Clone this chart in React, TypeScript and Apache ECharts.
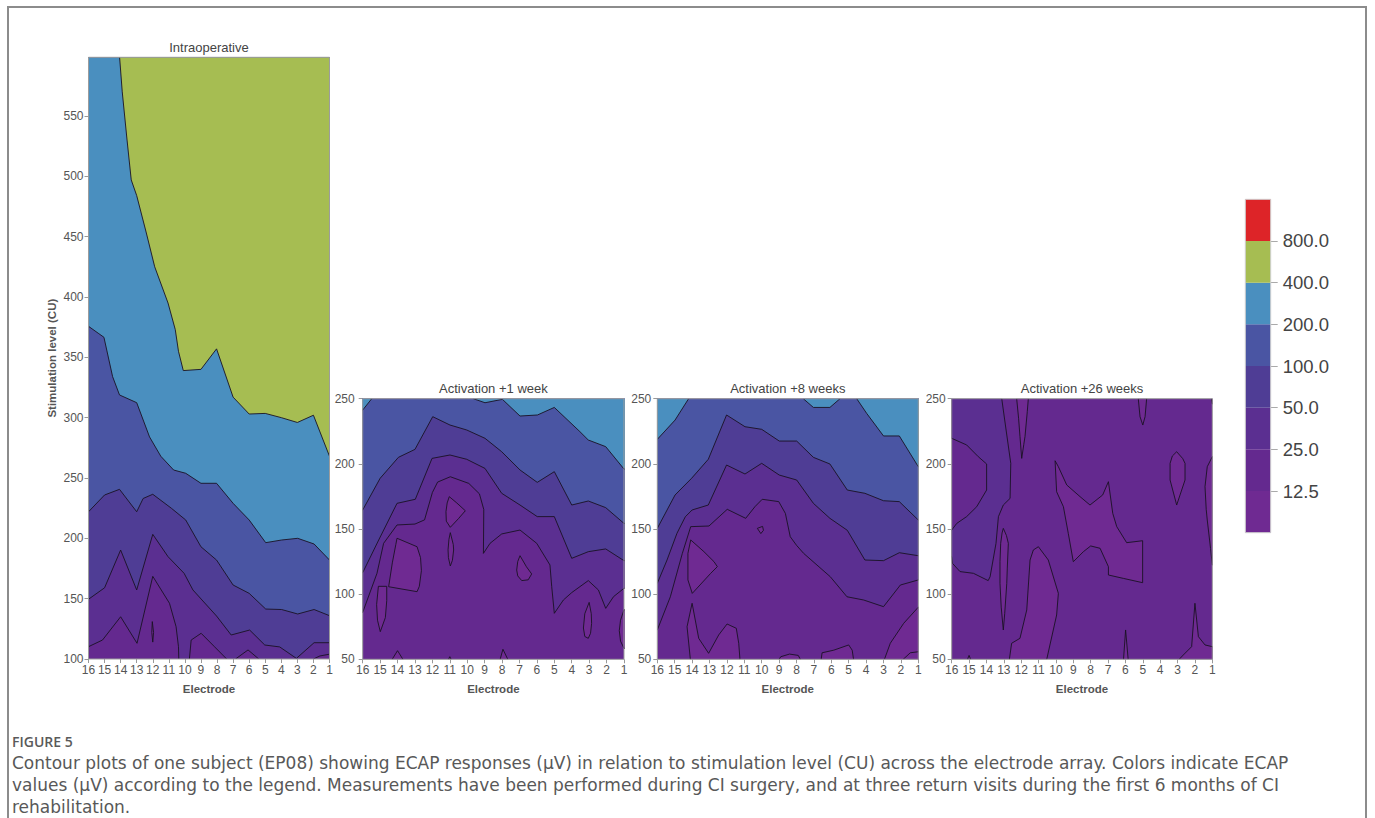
import React, { useEffect, useRef } from 'react';
import * as echarts from 'echarts';

// ---------- data ----------
const ELECTRODES = [16, 15, 14, 13, 12, 11, 10, 9, 8, 7, 6, 5, 4, 3, 2, 1];
const Y_TICKS_INTRAOP = [100, 150, 200, 250, 300, 350, 400, 450, 500, 550];
const Y_TICKS_ACT = [50, 100, 150, 200, 250];
const Y_RANGE_INTRAOP = [100, 598.6];
const Y_RANGE_ACT = [50, 250];
const PANEL_TITLES = ['Intraoperative', 'Activation +1 week', 'Activation +8 weeks', 'Activation +26 weeks'];
const X_NAME = 'Electrode';
const Y_NAME = 'Stimulation level (CU)';
// ECAP colour bands: <12.5, 12.5-25, 25-50, 50-100, 100-200, 200-400, 400-800, >800
const BAND_COLORS = ['#6f2a92', '#64298f', '#5b2f91', '#4f3d95', '#4a55a3', '#4a8fbf', '#a6bd52', '#dd2428'];
const COLORBAR_LABELS = ['12.5', '25.0', '50.0', '100.0', '200.0', '400.0', '800.0'];
const COLORBAR_BANDS = [0, 1, 2, 3, 4, 5, 6, 7];
const CAPTION_HEAD = 'FIGURE 5';
const CAPTION_LINES = [
  'Contour plots of one subject (EP08) showing ECAP responses (\u03bcV) in relation to stimulation level (CU) across the electrode array. Colors indicate ECAP',
  'values (\u03bcV) according to the legend. Measurements have been performed during CI surgery, and at three return visits during the first 6 months of CI',
  'rehabilitation.',
];

type Shape = { band: number; kind: 'upper' | 'lower' | 'island'; pts: number[][] };

// contour regions: [electrode, stimulation level]
const BASE_BANDS = [1, 1, 1, 1];

const intraopShapes: Shape[] = [
  { band: 2, kind: 'upper', pts: [[16, 110.2], [15.13, 115.7], [14.0, 135], [12.98, 113], [12.0, 168.5], [10.96, 146.2], [10.55, 126.8], [10.4, 110.2], [10.38, 100], [10.36, 95], [9.74, 95], [9.72, 100], [9.61, 115.7], [8.99, 121.3], [8.16, 110.2], [7.4, 100], [7.35, 95], [6.9, 95], [6.85, 100], [6.07, 107.5], [5.4, 100], [5.35, 95], [2.1, 95], [2.0, 100], [1.6, 102.5], [1.0, 104]] },
  { band: 3, kind: 'upper', pts: [[16, 149.5], [15.0, 159], [14.0, 190.3], [13.0, 157.2], [12.0, 203.3], [11.05, 184.8], [10.05, 171], [9.5, 157.2], [8.03, 135.6], [7.12, 119.9], [5.97, 124], [5.03, 111.6], [4.1, 110], [3.06, 100.5], [1.96, 113.5], [1.0, 113.5]] },
  { band: 4, kind: 'upper', pts: [[16, 222], [15.0, 235.9], [14.07, 240.6], [13.0, 222], [12.6, 233], [12.0, 236.5], [10.84, 224.9], [9.95, 215.2], [9.0, 193], [8.03, 182], [7.0, 161.3], [6.0, 154.4], [4.97, 141.4], [3.98, 141], [2.98, 137.3], [1.96, 141], [1.0, 135.9]] },
  { band: 5, kind: 'upper', pts: [[16, 375.7], [15.4, 370], [15.04, 366.6], [14.5, 334], [14.07, 318.8], [13.0, 312.4], [12.2, 284], [11.5, 268], [10.7, 256.6], [9.95, 253.9], [9.0, 245.6], [8.03, 245.6], [7.0, 229], [6.0, 215.2], [4.97, 196.4], [3.98, 198.6], [2.98, 200], [1.96, 195.3], [1.0, 182]] },
  { band: 6, kind: 'upper', pts: [[14.1, 605], [13.9, 570], [13.6, 530], [13.34, 497], [13.0, 484], [12.4, 453], [11.88, 425], [11.05, 395], [10.6, 373], [10.4, 355], [10.1, 339], [9.0, 340], [8.03, 357], [7.0, 317], [6.0, 303], [5.0, 303.5], [4.0, 300], [3.0, 296], [2.0, 302], [1.0, 268]] },
  { band: 0, kind: 'island', pts: [[12.03, 131], [11.95, 122], [12.0, 114], [12.06, 122]] },
];

const week1Shapes: Shape[] = [
  { band: 2, kind: 'upper', pts: [[16, 86], [15.18, 116], [14.8, 139], [14.03, 153.1], [13.0, 153.8], [12.45, 157], [12.0, 178], [11.7, 186], [10.97, 190.1], [9.91, 185], [9.3, 177], [9.05, 165], [9.07, 131.3], [8.69, 139], [8.02, 146.2], [6.97, 149.2], [6.01, 139], [5.25, 122.4], [5.15, 105.8], [5.0, 85.3], [4.48, 95.5], [4.0, 101.2], [3.05, 110.4], [2.47, 103.2], [2.05, 89.1], [1.6, 98.1], [1.0, 104.5]] },
  { band: 3, kind: 'upper', pts: [[16, 116.5], [15.08, 141.6], [14.03, 169.7], [12.98, 172.8], [12.02, 204.2], [10.99, 206.8], [10.03, 203.5], [8.98, 196.5], [8.02, 177.4], [6.97, 168.4], [5.98, 159.5], [5.0, 159.5], [4.0, 127.5], [3.05, 132.6], [2.05, 134.7], [1.0, 125.7]] },
  { band: 4, kind: 'upper', pts: [[16, 164.6], [15.0, 188.9], [13.95, 205], [13.0, 211.1], [11.98, 236.2], [10.99, 229.8], [10.03, 226], [8.98, 219.6], [8.02, 209.3], [6.97, 195.3], [5.98, 185.8], [5.0, 194], [4.0, 168.4], [3.05, 171.5], [2.05, 166.4], [1.0, 154.3]] },
  { band: 5, kind: 'upper', pts: [[16, 241.3], [15.48, 250], [15.45, 255]] },
  { band: 5, kind: 'upper', pts: [[9.75, 255], [9.65, 250], [8.98, 246.9], [7.98, 249.5], [6.97, 236.7], [5.97, 237.5], [5.0, 243.3], [3.53, 224.7], [3.05, 218.3], [2.05, 213.2], [1.0, 196]] },
  { band: 0, kind: 'island', pts: [[15.1, 106], [14.62, 106], [14.62, 95], [14.7, 82], [14.99, 71.2], [15.15, 80], [15.2, 92]] },
  { band: 0, kind: 'island', pts: [[14.03, 142.9], [12.88, 136.4], [12.68, 128], [12.63, 118], [12.75, 106], [12.88, 101.9], [14.51, 105.7], [14.3, 124], [14.1, 138]] },
  { band: 0, kind: 'island', pts: [[11.03, 174.8], [10.6, 170], [10.11, 164], [10.5, 158], [10.97, 151.3], [11.2, 156], [11.22, 163.3], [11.15, 170]] },
  { band: 0, kind: 'island', pts: [[10.97, 147.2], [10.8, 138], [10.78, 133.9], [10.85, 126], [10.97, 121.6], [11.08, 128], [11.1, 134], [11.05, 142]] },
  { band: 0, kind: 'island', pts: [[6.97, 129.5], [6.6, 121], [6.3, 115.5], [6.5, 111], [6.87, 110.4], [7.1, 114], [7.16, 118.5], [7.1, 125]] },
  { band: 0, kind: 'island', pts: [[3.0, 93.7], [2.88, 85], [2.86, 77.6], [2.92, 70], [3.05, 66.1], [3.25, 67.5], [3.33, 74], [3.25, 85]] },
  { band: 0, kind: 'island', pts: [[0.7, 88], [1.0, 88], [1.2, 80], [1.27, 72], [1.2, 64], [1.0, 58.4], [0.7, 58.4]] },
  { band: 0, kind: 'lower', pts: [[14.4, 48], [14.0, 56.6], [13.6, 48]] },
  { band: 0, kind: 'lower', pts: [[11.15, 48], [11.0, 52], [10.85, 48]] },
  { band: 0, kind: 'lower', pts: [[8.15, 48], [7.95, 57.7], [7.6, 48]] },
];

const week8Shapes: Shape[] = [
  { band: 2, kind: 'upper', pts: [[16, 72.5], [15.25, 98], [14.56, 131.3], [14.08, 151.8], [13.03, 152.3], [11.98, 165.1], [10.92, 158.2], [10.39, 167.1], [9.97, 172.8], [9.02, 171], [8.64, 162], [8.36, 144.1], [8.0, 137.5], [7.59, 131.3], [6.06, 113.4], [5.1, 98], [4.14, 95.5], [3.0, 90.4], [2.03, 107], [1.0, 110.9]] },
  { band: 3, kind: 'upper', pts: [[16, 108.3], [15.44, 126.2], [14.87, 146.7], [14.39, 159.4], [14.0, 164.6], [13.07, 168.4], [12.02, 199.1], [10.96, 192.2], [10.0, 200.4], [8.99, 191.4], [7.99, 187.6], [7.03, 169.7], [6.08, 158.2], [5.08, 149], [4.07, 126.2], [3.0, 125.7], [2.09, 131.8], [1.0, 129.5]] },
  { band: 4, kind: 'upper', pts: [[16, 150.5], [14.98, 176.1], [14.03, 188.9], [13.07, 203.5], [12.02, 237.5], [10.96, 228.5], [10.0, 226.5], [8.99, 217.5], [7.99, 217.5], [7.03, 205], [6.08, 199.9], [5.08, 179.9], [4.07, 177.4], [3.0, 171.7], [2.09, 171], [1.0, 156.9]] },
  { band: 5, kind: 'upper', pts: [[16, 218.8], [14.98, 233.6], [14.2, 250], [14.15, 255]] },
  { band: 5, kind: 'upper', pts: [[7.7, 255], [7.61, 250], [7.03, 243.3], [6.08, 243.3], [5.5, 250], [5.45, 255]] },
  { band: 5, kind: 'upper', pts: [[4.58, 255], [4.54, 250], [3.97, 238.8], [3.0, 221.4], [2.09, 221.4], [1.0, 197.8]] },
  { band: 0, kind: 'island', pts: [[14.08, 141.6], [13.32, 132.6], [12.74, 124.9], [12.55, 121.1], [12.93, 116], [13.99, 100.6], [14.24, 110.9], [14.24, 131.3]] },
  { band: 0, kind: 'island', pts: [[10.25, 150.5], [9.95, 152], [9.9, 149], [10.05, 146.5]] },
  { band: 0, kind: 'lower', pts: [[14.12, 48], [14.1, 50], [14.29, 75], [14.0, 93], [13.62, 66.1], [13.05, 54.6], [12.47, 68.7], [11.99, 77.1], [11.46, 73.8], [11.32, 62.3], [11.25, 50], [11.24, 48]] },
  { band: 0, kind: 'lower', pts: [[9.1, 48], [8.9, 52], [8.4, 54], [7.9, 53], [7.7, 48]] },
  { band: 0, kind: 'lower', pts: [[6.6, 48], [6.53, 55], [5.86, 57], [5.0, 61], [4.8, 57], [4.7, 48]] },
  { band: 0, kind: 'lower', pts: [[3.0, 48], [2.61, 62.3], [1.84, 77.6], [1.0, 90]] },
  { band: 0, kind: 'lower', pts: [[2.03, 48], [1.46, 55], [1.0, 55.8]] },
];

const week26Shapes: Shape[] = [
  { band: 2, kind: 'island', pts: [[16.5, 255], [13.1, 255], [13.12, 250], [12.87, 226], [12.6, 200.4], [12.64, 173.5], [13.03, 168.4], [13.31, 159.5], [13.45, 139], [13.79, 113.4], [13.9, 110.4], [14.75, 116], [15.52, 117.3], [15.96, 123.7], [16.0, 128.8], [16.5, 128.8], [16.5, 149.2], [16.0, 149.2], [15.71, 154.3], [15.14, 159.5], [14.56, 167.1], [13.99, 179.9], [13.99, 199.9], [14.47, 205.5], [15.14, 214.5], [16.0, 219.6], [16.5, 219.6]] },
  { band: 0, kind: 'island', pts: [[12.3, 255], [12.26, 250], [12.15, 235], [12.07, 221], [11.97, 204.2], [11.85, 215], [11.78, 221], [11.65, 240], [11.59, 250], [11.57, 255]] },
  { band: 0, kind: 'island', pts: [[5.28, 255], [5.26, 250], [5.16, 236.2], [5.0, 229.8], [4.87, 236.2], [4.78, 250], [4.76, 255]] },
  { band: 0, kind: 'island', pts: [[1.1, 255], [1.05, 250], [1.0, 246], [0.7, 246], [0.7, 255]] },
  { band: 0, kind: 'island', pts: [[3.05, 209.3], [2.7, 204], [2.57, 200.4], [2.57, 187.6], [3.05, 168.4], [3.43, 187.6], [3.43, 200.4], [3.3, 206]] },
  { band: 0, kind: 'island', pts: [[0.7, 205.5], [1.0, 205.5], [1.29, 197.8], [1.42, 182.5], [1.35, 165], [1.29, 156.9], [1.1, 135], [1.0, 122.4], [0.7, 122.4]] },
  { band: 0, kind: 'island', pts: [[10.05, 202.4], [9.96, 178.6], [9.57, 167.1], [9.29, 146.7], [9.0, 124.9], [8.42, 132.6], [8.0, 137], [7.46, 135.2], [6.98, 121.1], [6.98, 114.7], [6.12, 112.1], [5.01, 108.8], [5.01, 141.0], [5.93, 139.5], [6.5, 151.8], [6.73, 162], [6.98, 186.3], [7.31, 176.1], [8.04, 168.4], [8.61, 174.8], [9.38, 183.8], [9.86, 197.8]] },
  { band: 0, kind: 'island', pts: [[13.03, 150.5], [12.85, 145], [12.74, 139], [12.8, 120], [12.83, 108.3], [12.95, 85], [13.03, 72.5], [13.15, 90], [13.22, 108.3], [13.22, 125], [13.18, 139], [13.1, 147]] },
  { band: 0, kind: 'lower', pts: [[12.7, 48], [12.68, 50], [12.55, 62.3], [12.07, 66.1], [11.68, 87.9], [11.49, 126.2], [11.3, 133.9], [11.01, 136.4], [10.44, 126.2], [9.86, 100.6], [9.96, 84], [10.53, 50], [10.55, 48]] },
  { band: 0, kind: 'lower', pts: [[15.15, 48], [15.0, 53], [14.85, 48]] },
  { band: 0, kind: 'lower', pts: [[6.12, 48], [5.99, 72.5], [5.83, 48]] },
  { band: 0, kind: 'lower', pts: [[3.05, 48], [2.67, 53.3], [2.19, 59.7], [2.0, 93], [1.8, 67.4], [1.42, 61], [1.0, 59.7]] },
];

const PANEL_SHAPES = [intraopShapes, week1Shapes, week8Shapes, week26Shapes];

// ---------- layout ----------
const W = 1375;
const H = 818;
const GRIDS = [
  { left: 88.5, top: 57.3, width: 241, height: 601.7 },
  { left: 362.7, top: 398.7, width: 261.3, height: 260.6 },
  { left: 657.3, top: 398.7, width: 261, height: 260.6 },
  { left: 951.7, top: 398.7, width: 260.6, height: 260.6 },
];
const Y_LABEL_MARGINS = [5, 8, 6, 6];
const CB = { left: 1245.3, top: 199.3, width: 25.4, height: 333.4 };
const FONT = '"Liberation Sans", Arial, Helvetica, sans-serif';
const CAP_FONT = '"DejaVu Sans", "Open Sans", sans-serif';
const HEAD_FONT = '"Open Sans", "Noto Sans", sans-serif';
const LINE = '#1a1224';

function makeRender(shapes: Shape[]) {
  return (params: any, api: any) => {
    const s = shapes[params.dataIndex];
    const cs = params.coordSys;
    const px = s.pts.map((p) => api.coord(p));
    let points = px;
    const L = cs.x - 30;
    const R = cs.x + cs.width + 30;
    if (s.kind === 'upper') {
      const T = cs.y - 80;
      points = [[L, px[0][1]], ...px, [R, px[px.length - 1][1]], [R, T], [L, T]];
    } else if (s.kind === 'lower') {
      const B = cs.y + cs.height + 80;
      points = [[L, px[0][1]], ...px, [R, px[px.length - 1][1]], [R, B], [L, B]];
    }
    return {
      type: 'polygon',
      shape: { points },
      style: { fill: BAND_COLORS[s.band], stroke: LINE, lineWidth: 0.9 },
    };
  };
}

function buildOption() {
  const grids: any[] = GRIDS.map((g, i) => ({
    left: g.left,
    top: g.top,
    width: g.width,
    height: g.height,
    show: true,
    backgroundColor: BAND_COLORS[BASE_BANDS[i]],
    borderWidth: 0,
  }));
  grids.push({ left: CB.left, top: CB.top, width: CB.width, height: CB.height, show: false });

  const xAxes: any[] = GRIDS.map((_, i) => ({
    type: 'value',
    gridIndex: i,
    min: 1,
    max: 16,
    inverse: true,
    axisLine: { show: false },
    splitLine: { show: false },
    axisTick: { show: true, length: 4, lineStyle: { color: '#999' }, customValues: ELECTRODES },
    axisLabel: { customValues: ELECTRODES, color: '#555', fontSize: 12, fontFamily: FONT, margin: 5 },
  }));
  xAxes.push({ type: 'category', gridIndex: 4, data: ['cb'], show: false });

  const yAxes: any[] = GRIDS.map((_, i) => {
    const r = i === 0 ? Y_RANGE_INTRAOP : Y_RANGE_ACT;
    const t = i === 0 ? Y_TICKS_INTRAOP : Y_TICKS_ACT;
    return {
      type: 'value',
      gridIndex: i,
      min: r[0],
      max: r[1],
      axisLine: { show: false },
      splitLine: { show: false },
      axisTick: { show: true, length: 4, lineStyle: { color: '#999' }, customValues: t },
      axisLabel: { customValues: t, color: '#555', fontSize: 12, fontFamily: FONT, margin: Y_LABEL_MARGINS[i] },
    };
  });
  yAxes.push({
    type: 'value',
    gridIndex: 4,
    min: 0,
    max: 8,
    position: 'right',
    axisLine: { show: false },
    splitLine: { show: false },
    axisTick: { show: true, length: 7, lineStyle: { color: '#aaa' }, customValues: [1, 2, 3, 4, 5, 6, 7] },
    axisLabel: {
      customValues: [1, 2, 3, 4, 5, 6, 7],
      formatter: (v: number) => COLORBAR_LABELS[Math.round(v) - 1] ?? '',
      color: '#444',
      fontSize: 18.5,
      fontFamily: FONT,
      margin: 12,
    },
  });

  const series: any[] = PANEL_SHAPES.map((shapes, i) => ({
    type: 'custom',
    xAxisIndex: i,
    yAxisIndex: i,
    clip: true,
    silent: true,
    data: shapes.map((s) => [s.pts[0][0], s.pts[0][1]]),
    renderItem: makeRender(shapes),
  }));
  COLORBAR_BANDS.forEach((b) => {
    series.push({
      type: 'bar',
      xAxisIndex: 4,
      yAxisIndex: 4,
      stack: 'cb',
      barWidth: '100%',
      silent: true,
      data: [1],
      itemStyle: { color: BAND_COLORS[b] },
    });
  });

  const graphic: any[] = [];
  // page frame
  graphic.push({ type: 'polyline', shape: { points: [[8, H], [8, 7], [1366, 7], [1366, H]] }, style: { stroke: '#8c8c8c', lineWidth: 2, fill: null }, z: 100 });
  GRIDS.forEach((g, i) => {
    graphic.push({ type: 'rect', shape: { x: g.left, y: g.top, width: g.width, height: g.height }, style: { stroke: '#9c9c9c', lineWidth: 1, fill: null }, z: 100 });
    graphic.push({ type: 'text', x: g.left + g.width / 2, y: g.top - 10, style: { text: PANEL_TITLES[i], font: `13px ${FONT}`, fill: '#444', align: 'center', verticalAlign: 'middle' }, z: 100 });
    graphic.push({ type: 'text', x: g.left + g.width / 2, y: g.top + g.height + 30, style: { text: X_NAME, font: `bold 11.5px ${FONT}`, fill: '#555', align: 'center', verticalAlign: 'middle' }, z: 100 });
  });
  graphic.push({ type: 'text', x: 52, y: GRIDS[0].top + GRIDS[0].height / 2, rotation: Math.PI / 2, style: { text: Y_NAME, font: `bold 11.5px ${FONT}`, fill: '#555', align: 'center', verticalAlign: 'middle' }, z: 100 });
  graphic.push({ type: 'rect', shape: { x: CB.left, y: CB.top, width: CB.width, height: CB.height }, style: { stroke: '#cfcfcf', lineWidth: 1, fill: null }, z: 100 });
  graphic.push({ type: 'text', x: 12, y: 741, style: { text: CAPTION_HEAD, font: `600 14px ${HEAD_FONT}`, fill: '#5a5a5a', align: 'left', verticalAlign: 'middle' }, z: 100 });
  CAPTION_LINES.forEach((t, i) => {
    graphic.push({ type: 'text', x: 12, y: 763 + i * 22, style: { text: t, font: `17px ${CAP_FONT}`, fill: '#585858', align: 'left', verticalAlign: 'middle' }, z: 100 });
  });

  return { animation: false, backgroundColor: '#fff', grid: grids, xAxis: xAxes, yAxis: yAxes, series, graphic };
}

export default function App() {
  const ref = useRef<HTMLDivElement>(null);
  useEffect(() => {
    if (!ref.current) return;
    const chart = echarts.init(ref.current, undefined, { renderer: 'svg' });
    chart.setOption(buildOption() as any);
    return () => chart.dispose();
  }, []);
  return <div ref={ref} style={{ position: 'absolute', left: 0, top: 0, width: W, height: H, background: '#fff' }} />;
}
